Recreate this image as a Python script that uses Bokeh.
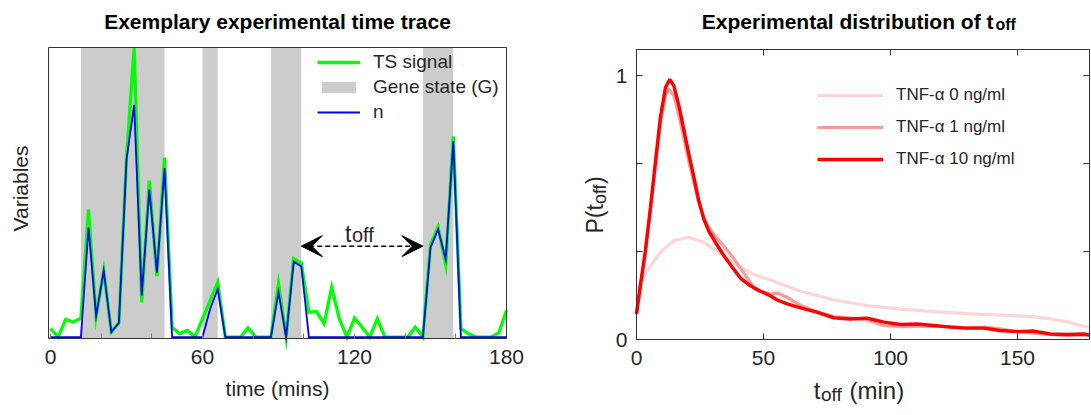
import math
from bokeh.plotting import figure
from bokeh.models import (Range1d, FixedTicker, LinearAxis, Legend, LegendItem,
                          Label, Arrow, VeeHead)
from bokeh.layouts import row
from bokeh.embed import file_html
from bokeh.resources import INLINE

FONT = "Liberation Sans"
TXT = "#262626"
FRAME = "#333333"

# ---------------- data: left panel (time trace) ----------------
time_min = [0, 3, 6, 9, 12, 15, 18, 21, 24, 27, 30, 33, 36, 39, 42, 45, 48, 51, 54, 57,
            60, 63, 66, 69, 72, 75, 78, 81, 84, 87, 90, 93, 96, 99, 102, 105, 108, 111,
            114, 117, 120, 123, 126, 129, 132, 135, 138, 141, 144, 147, 150, 153, 156,
            159, 162, 165, 168, 171, 174, 177, 180]
ts_signal = [2.9, 0, 6.1, 5.2, 6.5, 44, 7, 23, 1.7, 5,
             62, 100, 12, 54, 21, 62, 3.4, 1.1, 2.3, 0,
             6.3, 12.6, 18.9, 0, 0, 0, 3.2, 0, 0, 0,
             18.5, 0, 27.1, 25.5, 8.6, 8.8, 4.6, 17.2, 6.3, 0,
             6.5, 3.4, 0, 6.3, 0, 0, 0, 0, 3.4, 0,
             32, 38, 25, 69.3, 2.9, 1.1, 0, 0, 0, 1.5, 9.2]
n_fit = [0, 0, 0, 0, 0, 37.8, 7.4, 22.9, 1.7, 4.9,
         61.3, 80.2, 14.3, 51, 22.3, 58.4, 0, 0, 0, 0,
         0, 9.7, 16.6, 0, 0, 0, 0, 0, 0, 0,
         15.5, 0, 26, 24.4, 0, 0, 0, 0, 0, 0,
         0, 0, 0, 0, 0, 0, 0, 0, 0, 0,
         30.9, 37.2, 26.9, 67.6, 0, 0, 0, 0, 0, 0, 0]
gene_on_start = [12, 60, 87, 147]
gene_on_end = [45, 66, 99, 159]
toff_start = 99
toff_end = 147
toff_level = 31.4

# ---------------- data: right panel (t_off distribution) ----------------
t_10 = [0, 1.6, 3.5, 5.5, 7.5, 9.4, 11.4, 13.1, 14.7, 16.7, 18.7, 20.6, 22.6, 24.5,
        26.5, 28.5, 31.1, 34.4, 37.7, 41, 44.2, 48.8, 52.8, 55.4, 59.3, 64.6, 71,
        77.7, 84, 90.8, 97.4, 104, 110.5, 117, 123.6, 130, 136.7, 143, 150, 156.4,
        163, 169.6, 176, 180]
p_10 = [0.097, 0.211, 0.337, 0.501, 0.678, 0.842, 0.956, 0.987, 0.962, 0.886, 0.792,
        0.703, 0.615, 0.527, 0.457, 0.41, 0.368, 0.318, 0.274, 0.232, 0.208, 0.183,
        0.165, 0.150, 0.135, 0.120, 0.104, 0.082, 0.078, 0.081, 0.066, 0.057, 0.059,
        0.053, 0.047, 0.043, 0.043, 0.034, 0.030, 0.032, 0.021, 0.019, 0.021, 0.015]
t_1 = [0, 1.6, 3.5, 5.5, 7.5, 9.4, 11.4, 12.7, 14.7, 16.7, 18.7, 20.6, 22.6, 24.5,
       26.5, 28.5, 31.1, 34.4, 37.7, 41, 44.2, 46.5, 48.8, 52.8, 55.4, 59.3, 64.6, 71,
       77.7, 84, 90.8, 97.4, 104, 110.5, 117, 123.6, 130, 136.7, 143, 150, 156.4, 163,
       169.6, 176, 180]
p_1 = [0.097, 0.205, 0.33, 0.49, 0.66, 0.82, 0.925, 0.95, 0.925, 0.85, 0.76, 0.675,
       0.595, 0.52, 0.46, 0.425, 0.39, 0.355, 0.315, 0.27, 0.225, 0.19, 0.183, 0.172,
       0.176, 0.16, 0.129, 0.105, 0.087, 0.082, 0.074, 0.053, 0.049, 0.05, 0.05, 0.049,
       0.043, 0.047, 0.04, 0.03, 0.024, 0.019, 0.015, 0.017, 0.015]
t_0 = [0, 4.2, 9.4, 14.7, 20.6, 26.5, 33.1, 39.7, 46.2, 52.8, 64.6, 77.7, 90.8, 104,
       117, 130, 143, 156, 163, 169.6, 176, 180]
p_0 = [0.186, 0.261, 0.331, 0.375, 0.388, 0.369, 0.325, 0.28, 0.246, 0.226, 0.183,
       0.15, 0.129, 0.115, 0.106, 0.098, 0.093, 0.087, 0.078, 0.067, 0.05, 0.043]
dose_labels = ["TNF-\u03b1 0 ng/ml", "TNF-\u03b1 1 ng/ml", "TNF-\u03b1 10 ng/ml"]
dose_colors = ["#FFD6D6", "#FF9A9A", "#FF0000"]

left_ticks = [0, 60, 120, 180]
left_minor = [20, 40, 80, 100, 140, 160]
right_xticks = [0, 50, 100, 150]
right_yticks = [0, 1]
right_yminor = [1 / 3, 2 / 3]

# ---------------- layout (pixels on the page) ----------------
H = 410
L_CANVAS = (0, 560)          # left figure spans these page x
R_CANVAS = (560, 1090)
L_BOX = (48, 506, 47, 338)   # axes box: left, right, top, bottom (page px)
R_BOX = (636, 1089, 49, 339)
L_DATA = (-0.8, 180, -0.5, 100)    # box in data units
R_DATA = (0, (R_BOX[1] - R_BOX[0]) / 2.54, 0, 1.1)


class Mapper:
    def __init__(self, canvas, box, data):
        self.c0 = canvas[0]
        self.l, self.r, self.t, self.b = box
        self.x0, self.x1, self.y0, self.y1 = data

    def x(self, px):
        return self.x0 + (px - self.l) * (self.x1 - self.x0) / (self.r - self.l)

    def y(self, py):
        return self.y0 + (self.b - py) * (self.y1 - self.y0) / (self.b - self.t)


mL = Mapper(L_CANVAS, L_BOX, L_DATA)
mR = Mapper(R_CANVAS, R_BOX, R_DATA)


def lab(p, m, px, py, text, size, bold=False, align="left", angle=0.0, color=TXT):
    p.add_layout(Label(x=m.x(px), y=m.y(py), text=text, text_font=FONT,
                       text_font_size=f"{size}px",
                       text_font_style="bold" if bold else "normal", text_align=align,
                       text_baseline="alphabetic", angle=angle, text_color=color))


def make_fig(canvas, m):
    w = canvas[1] - canvas[0]
    p = figure(width=w, height=H, output_backend="svg", toolbar_location=None,
               x_range=Range1d(m.x(canvas[0]), m.x(canvas[1])),
               y_range=Range1d(m.y(H), m.y(0)),
               x_axis_location=None, y_axis_location=None, min_border=0,
               outline_line_color=None)
    p.grid.visible = False
    return p


def box_axis(p, side, loc, bounds, ticks, minor=None, labels=False, tick_color=FRAME,
             standoff=0, tick_len=5):
    if labels:
        tk = FixedTicker(ticks=ticks, minor_ticks=minor or [])
    else:
        # unlabeled box side: ticks drawn as minor ticks only (no label texts)
        tk = FixedTicker(ticks=[], minor_ticks=list(ticks) + list(minor or []))
    ax = LinearAxis(fixed_location=loc, bounds=bounds, ticker=tk)
    ax.major_tick_in = tick_len
    ax.major_tick_out = 0
    ax.minor_tick_in = tick_len
    ax.minor_tick_out = 0
    ax.major_tick_line_color = tick_color
    ax.minor_tick_line_color = tick_color
    ax.axis_line_color = FRAME
    ax.axis_line_width = 1
    ax.major_label_text_font = FONT
    ax.major_label_text_font_size = "21px"
    ax.major_label_text_color = TXT
    ax.major_label_standoff = standoff
    p.add_layout(ax, side)
    return ax


# ================= left figure =================
p1 = make_fig(L_CANVAS, mL)
x0, x1, y0, y1 = L_DATA
box_axis(p1, "below", y0, (x0, x1), left_ticks, left_minor, labels=True,
         tick_color="#777777", standoff=11)
box_axis(p1, "above", y1, (x0, x1), [])
box_axis(p1, "left", x0, (y0, y1), [])
box_axis(p1, "right", x1, (y0, y1), [])

bands = p1.quad(left=gene_on_start, right=gene_on_end, bottom=y0, top=y1,
                fill_color="#CCCCCC", line_color=None)
green = p1.line(time_min, ts_signal, line_color="#00FF00", line_width=3.3,
                line_join="miter")
blue = p1.line(time_min, n_fit, line_color="#0000FF", line_width=1.8,
               line_join="miter")

leg1 = Legend(items=[LegendItem(label="TS signal", renderers=[green]),
                     LegendItem(label="Gene state (G)", renderers=[bands]),
                     LegendItem(label="n", renderers=[blue])],
              location=(317 - L_CANVAS[0], H - 123), orientation="vertical",
              border_line_alpha=0, background_fill_alpha=0, padding=0, margin=0,
              spacing=3, glyph_width=43, glyph_height=14, label_height=20,
              label_standoff=13, label_text_font=FONT, label_text_font_size="19px",
              label_text_color=TXT)
p1.add_layout(leg1)

p1.add_layout(Arrow(start=VeeHead(size=21, fill_color="black", line_color="black",
                                  line_width=1),
                    end=VeeHead(size=21, fill_color="black", line_color="black",
                                line_width=1),
                    x_start=toff_start, y_start=toff_level, x_end=toff_end,
                    y_end=toff_level, line_color="black", line_width=1.5,
                    line_dash="5 3"))
lab(p1, mL, 351, 233, "t", 23, align="right")
lab(p1, mL, 351.5, 234.5, "off", 20)

lab(p1, mL, (L_BOX[0] + L_BOX[1]) / 2, 21, "Exemplary experimental time trace", 21,
    bold=True, align="center", color="black")
lab(p1, mL, (L_BOX[0] + L_BOX[1]) / 2, 388, "time (mins)", 21, align="center")
lab(p1, mL, 20, 188, "Variables", 21, align="center", angle=math.pi / 2)

# ================= right figure =================
p2 = make_fig(R_CANVAS, mR)
x0, x1, y0, y1 = R_DATA
box_axis(p2, "below", y0, (x0, x1), right_xticks, labels=True, standoff=11, tick_len=6)
box_axis(p2, "left", x0, (y0, y1), right_yticks, right_yminor, labels=True,
         standoff=9, tick_len=6)
box_axis(p2, "above", y1, (x0, x1), right_xticks, tick_len=6)
box_axis(p2, "right", x1, (y0, y1), right_yticks, right_yminor, tick_len=6)

r0 = p2.line(t_0, p_0, line_color=dose_colors[0], line_width=3.2)
r1 = p2.line(t_1, p_1, line_color=dose_colors[1], line_width=3.2)
r10 = p2.line(t_10, p_10, line_color=dose_colors[2], line_width=3.4)

leg2 = Legend(items=[LegendItem(label=dose_labels[0], renderers=[r0]),
                     LegendItem(label=dose_labels[1], renderers=[r1]),
                     LegendItem(label=dose_labels[2], renderers=[r10])],
              location=(817 - R_CANVAS[0], H - 169), orientation="vertical",
              border_line_alpha=0, background_fill_alpha=0, padding=0, margin=0,
              spacing=12, glyph_width=66, glyph_height=20, label_height=20,
              label_standoff=13, label_text_font=FONT, label_text_font_size="17px",
              label_text_color=TXT)
p2.add_layout(leg2)

# title with subscript
lab(p2, mR, 993, 21, "Experimental distribution of t", 21, bold=True,
    align="right", color="black")
lab(p2, mR, 995, 24, "off", 16, bold=True, color="black")
# x label: t_off (min)
lab(p2, mR, 820, 390, "t", 24, align="right")
lab(p2, mR, 820.5, 394, "off", 19)
lab(p2, mR, 849, 390, "(min)", 24)
# y label (rotated): P(t_off)
lab(p2, mR, 594, 233, "P(t", 23, angle=math.pi / 2)
lab(p2, mR, 599, 203.6, "off", 18, angle=math.pi / 2)
lab(p2, mR, 594, 183.6, ")", 23, angle=math.pi / 2)

layout = row(p1, p2)
open("out.html", "w").write(file_html(layout, INLINE))
